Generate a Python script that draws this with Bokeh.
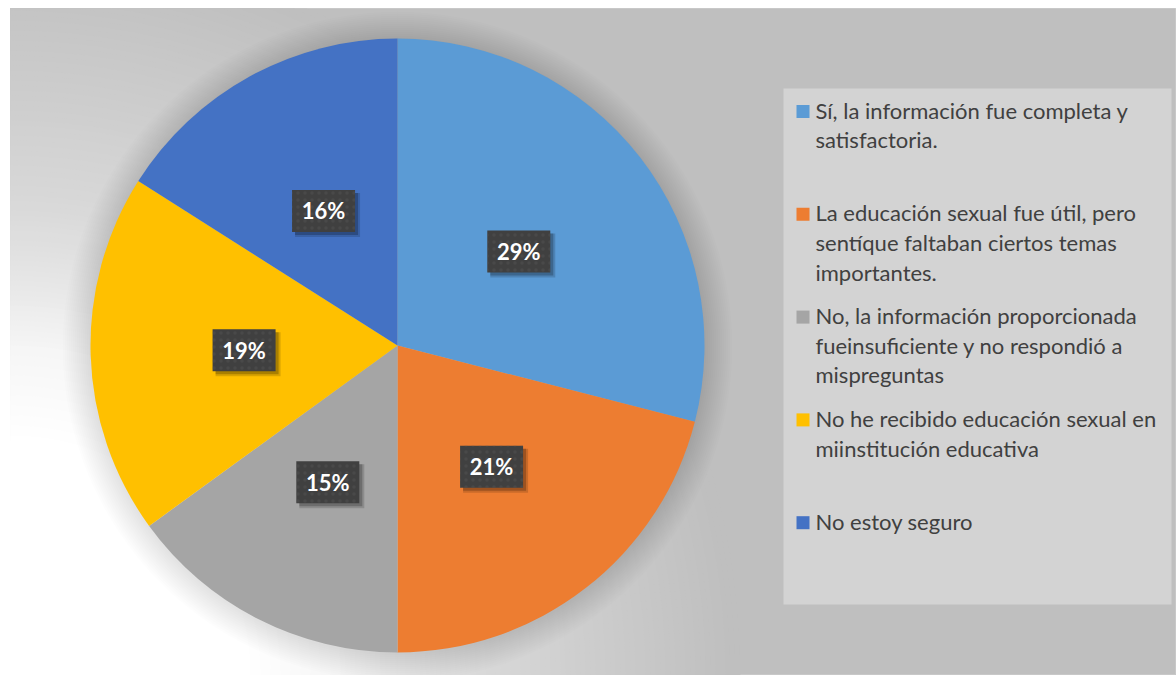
import numpy as np
from bokeh.plotting import figure
from bokeh.models import Range1d
from bokeh.core.properties import value
from bokeh.embed import file_html
from bokeh.resources import INLINE

# ---------------- data ----------------
categories = [
    "Sí, la información fue completa y\nsatisfactoria.",
    "La educación sexual fue útil, pero\nsentíque faltaban ciertos temas\nimportantes.",
    "No, la información proporcionada\nfueinsuficiente y no respondió a\nmispreguntas",
    "No he recibido educación sexual en\nmiinstitución educativa",
    "No estoy seguro",
]
percentages = [29, 21, 15, 19, 16]
pct_labels = ["29%", "21%", "15%", "19%", "16%"]
colors = ["#5B9BD5", "#ED7D31", "#A5A5A5", "#FFC000", "#4472C4"]

# ---------------- layout helpers (screen px -> data) ----------------
def sx(x):
    return x - 10

def sy(y):
    return 675 - y

W, H = 1176, 675
p = figure(width=W, height=H, output_backend="svg", toolbar_location=None,
           x_range=Range1d(0, W - 10), y_range=Range1d(0, H - 8),
           x_axis_location=None, y_axis_location=None,
           min_border_left=10, min_border_right=0, min_border_top=8, min_border_bottom=0)
p.grid.visible = False
p.background_fill_color = "#bfbfbf"
p.border_fill_color = "white"
p.outline_line_color = "#c8c8c8"

# background radial gradient (lighter towards bottom-left)
radii = np.arange(730, 230, -5)
vals = np.interp(radii, [240, 330, 410, 475, 635, 730], [255, 246, 228, 217, 200, 191])
bg_cols = ["#%02x%02x%02x" % (int(v), int(v), int(v)) for v in vals]
p.circle(x=[0] * len(radii), y=[0] * len(radii), radius=radii,
         fill_color=bg_cols, line_color=None)

# pie geometry
cx, cy, R = sx(397), sy(345), 307
frac = np.array(percentages, dtype=float) / sum(percentages)
cum_end = np.cumsum(frac)
cum_start = cum_end - frac
start_angle = np.pi / 2 - 2 * np.pi * cum_end
end_angle = np.pi / 2 - 2 * np.pi * cum_start

# soft shadow around pie
for k in range(14, 0, -1):
    p.circle(x=[cx], y=[cy - 1], radius=R + 2 * k, fill_color="black",
             fill_alpha=0.009, line_color=None)

p.wedge(x=cx, y=cy, radius=R, start_angle=start_angle, end_angle=end_angle,
        fill_color=colors, line_color=None)

# data labels
mid = (start_angle + end_angle) / 2
lx = cx + 0.5 * R * np.cos(mid)
ly = cy + 0.5 * R * np.sin(mid)
bw, bh = 63, 42
p.rect(x=lx + 4, y=ly - 4, width=bw + 2, height=bh + 2, fill_color="black",
       fill_alpha=0.15, line_color=None)
p.rect(x=lx + 3, y=ly - 3, width=bw, height=bh, fill_color="black",
       fill_alpha=0.22, line_color=None)
p.rect(x=lx, y=ly, width=bw, height=bh, fill_color="#404040", line_color=None,
       hatch_pattern="dot", hatch_color="#5a5a5a", hatch_alpha=0.35,
       hatch_scale=7, hatch_weight=1.5)
p.text(x=lx, y=ly, text=pct_labels, text_font=value("Lato"), text_font_style="bold",
       text_font_size="22px", text_color="white", text_align="center",
       text_baseline="middle")

# legend
p.quad(left=sx(783), right=sx(1171), top=sy(88), bottom=sy(604),
       fill_color="#d3d3d3", line_color=None)
n = len(categories)
yc = np.array([111 + 102.8 * i for i in range(n)])
p.rect(x=[sx(802.5)] * n, y=sy(yc), width=13, height=13, fill_color=colors,
       line_color=None)
p.text(x=[sx(815)] * n, y=sy(yc - 15), text=categories, text_font=value("Lato"),
       text_font_size="22px", text_color="#404040", text_align="left",
       text_baseline="top", text_line_height=1.1)

open("out.html", "w").write(file_html(p, INLINE))
